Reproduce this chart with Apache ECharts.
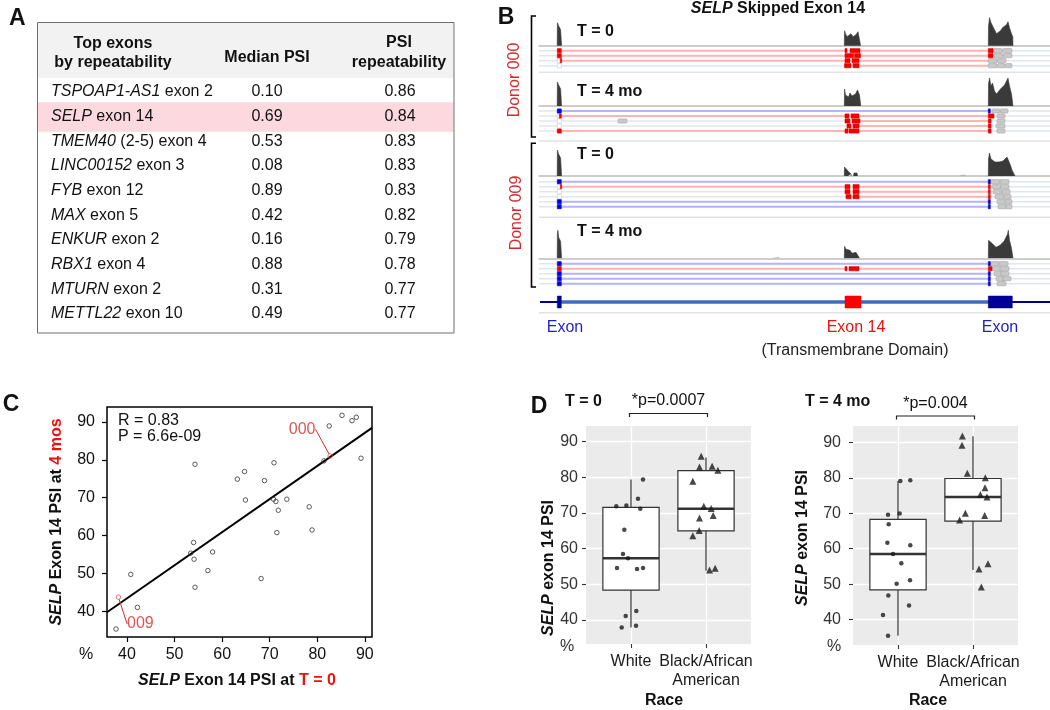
<!DOCTYPE html>
<html>
<head>
<meta charset="utf-8">
<title>SELP exon 14</title>
<script src="https://cdn.jsdelivr.net/npm/echarts@6.0.0/dist/echarts.min.js"></script>
<style>
html,body{margin:0;padding:0;background:#ffffff;}
#chart{width:1050px;height:710px;}
</style>
</head>
<body>
<div id="chart"></div>
<script>
// ================= Panel A : table =================
const tableGenes = ['TSPOAP1-AS1','SELP','TMEM40','LINC00152','FYB','MAX','ENKUR','RBX1','MTURN','METTL22'];
const tableExonText = [' exon 2',' exon 14',' (2-5) exon 4',' exon 3',' exon 12',' exon 5',' exon 2',' exon 4',' exon 2',' exon 10'];
const tableMedianPSI = ['0.10','0.69','0.53','0.08','0.89','0.42','0.16','0.88','0.31','0.49'];
const tableRepeatability = ['0.86','0.84','0.83','0.83','0.83','0.82','0.79','0.78','0.77','0.77'];
const tableHighlightGene = 'SELP';

// ================= Panel B : genome tracks =================
const trackSpan = 511;
const geneExons = [[18.3,22.3],[306,322],[449.3,473.3]];
const geneExonKind = ['flank','skipped','flank'];
const sampleLabels = ['T = 0','T = 4 mo','T = 0','T = 4 mo'];
const donorLabels = ['Donor 000','Donor 009'];
const exonLabels = ['Exon','Exon 14','Exon'];

const cov000T0 = [
  [[18.2,0],[18.4,23],[18.9,25],[19.6,20],[20.6,18],[21.6,16],[22.4,15],[22.6,0]],
  [[305.3,0],[305.5,15],[306.5,12],[308,9],[310,10],[312,12],[314,9],[315.5,8],[317,11],[319,14],[321,13],[321.6,0]],
  [[449.3,0],[449.5,19],[450.5,28],[452,23],[453.5,21],[455.5,16],[457.5,12],[459.5,12],[461.5,15],[463.5,18],[465.5,19],[467.5,21],[469,24],[470.5,18],[472.5,12],[473.8,9],[474,0]]
];
const cov000T4 = [
  [[18.2,0],[18.4,24],[18.9,26],[19.6,21],[20.6,19],[21.6,17],[22.4,15],[22.6,0]],
  [[305.3,0],[305.5,17],[306.5,11],[308,12],[309.5,9],[311,13],[313,10],[314.5,8],[316.5,12],[318.5,16],[320.5,11],[321.6,9],[321.8,0]],
  [[449.3,0],[449.5,22],[450.5,28],[452,20],[453.5,23],[455.5,15],[457.5,12],[459.5,14],[461.5,17],[463.5,19],[465.5,21],[467.5,23],[469,28],[470.5,20],[472.5,12],[474,0]]
];
const cov009T0 = [
  [[18.2,0],[18.4,26],[18.9,28],[19.6,22],[20.6,20],[21.6,18],[22.4,16],[22.6,0]],
  [[305.3,0],[305.5,9],[307,7],[309,5],[310.5,4],[312,2],[312.3,0]],
  [[314.5,0],[315,3],[316.5,5],[318,3],[318.5,0]],
  [[449.3,0],[449.5,17],[450.5,23],[452,17],[454,15],[456,14],[458,12],[460,14],[462,13],[464,15],[466,16],[468,19],[469.5,18],[471,12],[473,6],[476,0]]
];
const cov009T4 = [
  [[18.2,0],[18.4,25],[18.9,28],[19.6,21],[20.6,19],[21.6,17],[22.4,15],[22.6,0]],
  [[305.3,0],[305.5,12],[307,9],[309,7],[311,8],[313,5],[315,4],[317,6],[319,4],[320.5,0]],
  [[449.3,0],[449.5,18],[451,16],[453,15],[455,13],[457,11],[459,10],[461,13],[463,15],[465,17],[467,21],[468.5,24],[469.3,28],[470.5,18],[472.5,10],[474,0]]
];
const covStray = [[], [], [[421,0],[421.2,1.2],[426,1.2],[426.2,0]], [[234,0],[234.2,1],[240,1],[240.2,0]]];

// reads: R red block, B blue block, G gray block, W empty block, r inclusion junction, b skipping junction
const reads000T0 = [
  [['R',18.3,22.3],['r',22.3,306],['R',306,308],['R',311,321],['r',321,449.3],['R',449.3,454],['G',454.5,463],['G',463.5,473]],
  [['R',18.3,22.3],['r',22.3,306],['R',306,314.5],['R',315.5,321.5],['r',321.5,449.3],['R',449.3,454],['G',455,464],['G',464.5,473]],
  [['W',18.3,22.3],['R',21.3,22.3],['r',22.3,306],['R',306,311],['R',313,320],['r',320,449.3],['G',449.3,458],['G',458.5,467]],
  [['W',18.3,22.3],['R',305.5,312],['R',314,320],['r',320,449.3],['G',449.3,458],['G',458.5,466],['G',466.5,473]]
];
const reads000T4 = [
  [['B',18.3,22.3],['b',22.3,449.3],['B',449.3,451.3],['G',453,461],['G',461.5,469]],
  [['W',18.3,22.3],['R',20.3,22.3],['r',22.3,306],['R',306,310],['R',312,320],['r',320,449.3],['R',449.3,455],['G',458,466]],
  [['W',18.3,22.3],['G',79,88],['R',306,311],['R',313,321],['r',321,449.3],['R',449.3,452],['G',458,466]],
  [['W',18.3,22.3],['R',308,312],['R',314,320],['r',320,449.3],['R',449.3,452],['G',457,466]],
  [['R',18.3,22.3],['r',22.3,306],['R',306,309],['R',310,320],['r',320,449.3],['R',449.3,452],['G',458,466]]
];
const reads009T0 = [
  [['B',18.3,22.3],['b',22.3,449.3],['B',449.3,451.3],['G',451.5,461],['G',461,470]],
  [['W',18.3,22.3],['R',21.3,22.3],['r',22.3,306],['R',306,311],['R',314,320],['r',320,449.3],['R',449.3,451.3],['G',453,462],['G',461.5,470]],
  [['W',18.3,22.3],['R',306,311],['R',314,320],['r',320,449.3],['R',449.3,451.3],['G',454,463],['G',463,471]],
  [['W',18.3,22.3],['R',307,312],['R',314,320],['r',320,449.3],['R',449.3,451.3],['G',456,465],['G',465,472]],
  [['B',18.3,22.3],['b',22.3,449.3],['B',449.3,451.3],['G',458,467],['G',466,473]],
  [['B',18.3,22.3],['b',22.3,449.3],['B',449.3,451.3],['G',459,467],['G',467,473]]
];
const reads009T4 = [
  [['B',18.3,22.3],['b',22.3,449.3],['B',449.3,451.3],['G',451.5,460],['G',460,469]],
  [['R',18.3,22.3],['r',22.3,306],['R',306,308],['R',310,320],['r',320,449.3],['R',449.3,453],['G',453,462],['G',461,470]],
  [['B',18.3,22.3],['b',22.3,449.3],['B',449.3,451.3],['G',455,464],['G',462,470]],
  [['B',18.3,22.3],['b',22.3,449.3],['B',449.3,451.3],['G',457,466],['G',464,472]],
  [['B',18.3,22.3],['b',22.3,449.3],['B',449.3,451.3],['G',458,467]]
];

// ================= Panel C : scatter =================
const psiT0 = [37.7,40.8,42.2,54.0,53.4,54.1,54.3,54.3,58.0,57.0,63.2,64.7,64.9,68.9,68.2,70.9,70.8,71.3,71.5,71.8,73.6,78.3,78.9,81.4,82.5,85.2,87.3,88.2,89.2];
const psiT4 = [35.4,49.8,41.1,58.2,55.4,53.8,46.4,78.8,55.7,50.8,74.9,76.9,69.4,74.5,48.7,79.2,69.6,69.0,60.8,66.7,69.6,67.6,61.5,79.7,88.9,91.7,90.3,91.2,80.4];
const donorIds = ['000','009'];
const donorT0 = [82.7,38.2];
const donorT4 = [81.0,43.8];
const fitIntercept = 8.6;
const fitSlope = 0.872;
const statR = '0.83';
const statP = '6.6e-09';
const scatterTicks = [40,50,60,70,80,90];

// ================= Panel D : box plots =================
const raceLabels = ['White','Black/African\nAmerican'];
const boxTicks = [40,50,60,70,80,90];
const d0WhitePSI = [79.4,74.0,71.9,72.1,71.2,65.3,58.5,57.3,54.6,54.3,54.6,42.5,41.1,37.9,38.4];
const d0WhiteJit = [0.16,0.093,-0.196,-0.062,0.124,-0.089,-0.107,-0.04,-0.187,0.08,0.16,0.071,-0.071,-0.124,0.067];
const d0BlackPSI = [85.9,82.9,83.1,82.0,78.9,71.9,71.3,68.6,69.3,65.1,63.6,54.0,54.5];
const d0BlackJit = [-0.064,-0.087,0.082,0.158,-0.176,-0.029,0.069,-0.087,0.096,-0.091,-0.176,0.047,0.122];
const d4WhitePSI = [79.1,79.3,69.6,69.9,66.9,61.7,61.0,58.5,55.9,50.1,51.1,46.8,44.0,41.3,35.5];
const d4WhiteJit = [0.031,0.164,-0.133,0.022,-0.124,-0.142,0.164,-0.067,0.044,-0.018,0.16,-0.129,0.147,-0.2,-0.133];
const d4BlackPSI = [91.8,89.2,81.3,80.0,77.2,75.3,74.6,70.0,69.4,68.1,55.8,54.3,49.2];
const d4BlackJit = [-0.142,-0.147,-0.076,0.164,0.16,0.098,0.187,-0.102,0.156,-0.178,0.2,0.08,0.111];
// [lower whisker, Q1, median, Q3, upper whisker]
const d0WhiteBox = [37.9,48.4,57.3,71.6,79.4];
const d0BlackBox = [53.8,65.0,71.2,81.9,85.6];
const d4WhiteBox = [35.5,48.4,58.5,68.3,79.1];
const d4BlackBox = [54.0,67.8,74.6,79.8,91.7];
const pValueT0 = '*p=0.0007';
const pValueT4 = '*p=0.004';

// ================= build =================
const FONT = "'Liberation Sans', Arial, Helvetica, sans-serif";
const chart = echarts.init(document.getElementById('chart'), null, {renderer: 'canvas', width: 1050, height: 710});

const grids = [];
const xAxes = [];
const yAxes = [];
const series = [];

function gridOpt(o) { return Object.assign({outerBoundsMode: 'none', containLabel: false}, o); }

// ---- Panel C ----
grids.push(gridOpt({left: 107, top: 407, width: 265, height: 230, show: true, borderColor: '#000', borderWidth: 1.5, backgroundColor: 'transparent'}));
xAxes.push({type: 'value', gridIndex: 0, min: 35.8, max: 91.5,
  axisLine: {show: false},
  axisTick: {show: true, length: 5, customValues: scatterTicks, lineStyle: {color: '#000', width: 1.2}},
  axisLabel: {customValues: scatterTicks, fontSize: 16, color: '#111', margin: 10, fontFamily: FONT},
  splitLine: {show: false}});
yAxes.push({type: 'value', gridIndex: 0, min: 33.3, max: 93.9,
  axisLine: {show: false},
  axisTick: {show: true, length: 5, customValues: scatterTicks, lineStyle: {color: '#000', width: 1.2}},
  axisLabel: {customValues: scatterTicks, fontSize: 16, color: '#111', margin: 12, fontFamily: FONT},
  splitLine: {show: false}});

// ---- Panel D ----
function dAxes(gi, ymin, ymax, labelMargin) {
  xAxes.push({type: 'value', gridIndex: gi, min: 0.4, max: 2.6,
    axisLine: {show: false},
    axisTick: {show: true, length: 4, customValues: [1, 2], lineStyle: {color: '#333', width: 1.1}},
    axisLabel: {customValues: [1, 2], formatter: v => raceLabels[Math.round(v) - 1], fontSize: 16, color: '#1a1a1a', margin: 8, lineHeight: 19, fontFamily: FONT},
    splitLine: {show: true, lineStyle: {color: '#ffffff', width: 1.3}}});
  yAxes.push({type: 'value', gridIndex: gi, min: ymin, max: ymax,
    axisLine: {show: false},
    axisTick: {show: true, length: 4, customValues: boxTicks, lineStyle: {color: '#333', width: 1.1}},
    axisLabel: {customValues: boxTicks, fontSize: 16, color: '#333', margin: labelMargin, fontFamily: FONT},
    splitLine: {show: true, lineStyle: {color: '#ffffff', width: 1.3}}});
}
grids.push(gridOpt({left: 586, top: 426, width: 165, height: 218, show: true, backgroundColor: '#ebebeb', borderWidth: 0}));
dAxes(1, 33.27, 94.4, 8);
grids.push(gridOpt({left: 853, top: 426, width: 165, height: 219, show: true, backgroundColor: '#ebebeb', borderWidth: 0}));
dAxes(2, 32.87, 94.59, 12);

// ---- Panel B ----
const covBaseline = [45.7, 106, 176, 258.3];
const readFirstRow = [50.7, 111, 181.7, 263.7];
const covSets = [cov000T0, cov000T4, cov009T0, cov009T4];
const readSets = [reads000T0, reads000T4, reads009T0, reads009T4];
for (let s = 0; s < 4; s++) {
  grids.push(gridOpt({left: 539, width: 511, top: covBaseline[s] - 30, height: 30}));
  xAxes.push({type: 'value', gridIndex: 3 + s, min: 0, max: trackSpan, show: true,
    axisLine: {show: true, onZero: false, lineStyle: {color: '#bdbdbd', width: 1.5}},
    axisTick: {show: false}, axisLabel: {show: false}, splitLine: {show: false}});
  yAxes.push({type: 'value', gridIndex: 3 + s, min: 0, max: 30, show: false, splitLine: {show: false}});
}
for (let s = 0; s < 4; s++) {
  const n = readSets[s].length;
  grids.push(gridOpt({left: 539, width: 511, top: readFirstRow[s] - 2.5, height: n * 5}));
  xAxes.push({type: 'value', gridIndex: 7 + s, min: 0, max: trackSpan, show: false, splitLine: {show: false}});
  yAxes.push({type: 'value', gridIndex: 7 + s, min: 0.5, max: n + 0.5, inverse: true, show: false, splitLine: {show: false}});
}
grids.push(gridOpt({left: 539, width: 511, top: 296, height: 12}));
xAxes.push({type: 'value', gridIndex: 11, min: 0, max: trackSpan, show: false, splitLine: {show: false}});
yAxes.push({type: 'value', gridIndex: 11, min: -1, max: 1, show: false, splitLine: {show: false}});

// coverage series
for (let s = 0; s < 4; s++) {
  covSets[s].forEach(peak => {
    series.push({type: 'line', xAxisIndex: 3 + s, yAxisIndex: 3 + s, data: peak, symbol: 'none', silent: true,
      lineStyle: {color: '#3a3a3a', width: 0.6}, areaStyle: {color: '#3a3a3a', opacity: 1}, animation: false, z: 3});
  });
  if (covStray[s].length) {
    series.push({type: 'line', xAxisIndex: 3 + s, yAxisIndex: 3 + s, data: covStray[s], symbol: 'none', silent: true,
      lineStyle: {color: '#9a9a9a', width: 0.6}, areaStyle: {color: '#9a9a9a', opacity: 1}, animation: false, z: 3});
  }
}

// reads series
const kindIndex = {bg: 0, r: 1, b: 2, W: 3, G: 4, R: 5, B: 6};
const kindFill = {3: '#ffffff', 4: '#c9c9c9', 5: '#f20000', 6: '#0000ee'};
const kindStroke = {3: '#c8c8c8', 4: '#a5a5a5', 5: '#e00000', 6: '#0000c8'};
const lineColor = {0: '#dfe7ee', 1: '#ffb4b4', 2: '#b4b4ff'};
function renderRead(params, api) {
  const row = api.value(0), s = api.value(1), e = api.value(2), k = api.value(3);
  const a = api.coord([s, row]);
  const b = api.coord([e, row]);
  const y = a[1];
  if (k <= 2) {
    return {type: 'line', shape: {x1: a[0], y1: y, x2: b[0], y2: y}, style: {stroke: lineColor[k], lineWidth: k === 0 ? 1.6 : 2}};
  }
  return {type: 'rect', shape: {x: a[0], y: y - 2.1, width: Math.max(1.4, b[0] - a[0]), height: 4.2, r: k === 4 ? 1 : 0},
    style: {fill: kindFill[k], stroke: kindStroke[k], lineWidth: 0.6}};
}
for (let s = 0; s < 4; s++) {
  const data = [];
  readSets[s].forEach((row, i) => {
    data.push([i + 1, 0, trackSpan, 0]);
    row.forEach(it => data.push([i + 1, it[1], it[2], kindIndex[it[0]]]));
  });
  data.sort((p, q) => p[3] - q[3]);
  series.push({type: 'custom', xAxisIndex: 7 + s, yAxisIndex: 7 + s, data: data, renderItem: renderRead, silent: true, animation: false, clip: false});
}

// gene model
series.push({type: 'line', xAxisIndex: 11, yAxisIndex: 11, data: [[1, 0], [trackSpan, 0]], symbol: 'none', silent: true,
  lineStyle: {color: '#000099', width: 2}, animation: false, z: 2});
series.push({type: 'line', xAxisIndex: 11, yAxisIndex: 11, data: [[geneExons[0][1], 0], [geneExons[2][0], 0]], symbol: 'none', silent: true,
  lineStyle: {color: '#3f6cc0', width: 3.6}, animation: false, z: 3});
series.push({type: 'custom', xAxisIndex: 11, yAxisIndex: 11, silent: true, animation: false, z: 4,
  data: geneExons.map((e, i) => [e[0], e[1], geneExonKind[i] === 'skipped' ? 1 : 0]),
  renderItem: function (params, api) {
    const a = api.coord([api.value(0), 1]);
    const b = api.coord([api.value(1), -1]);
    const red = api.value(2) === 1;
    return {type: 'rect', shape: {x: a[0], y: a[1], width: Math.max(3.5, b[0] - a[0]), height: b[1] - a[1]},
      style: {fill: red ? '#ff0000' : '#000099', stroke: red ? '#e00000' : '#000088', lineWidth: 0.5}};
  }});

// ---- Panel C series ----
series.push({type: 'scatter', xAxisIndex: 0, yAxisIndex: 0, data: psiT0.map((v, i) => [v, psiT4[i]]), symbol: 'circle', symbolSize: 4.5,
  itemStyle: {color: 'rgba(0,0,0,0)', borderColor: '#333', borderWidth: 1}, silent: true, animation: false, z: 4});
const fitX = [35.8, 91.5];
series.push({type: 'line', xAxisIndex: 0, yAxisIndex: 0, data: fitX.map(x => [x, fitIntercept + fitSlope * x]), symbol: 'none', silent: true,
  lineStyle: {color: '#000', width: 2}, animation: false, z: 3});
const donorLabelShift = [[-28, -11], [22, 11]];
donorIds.forEach((id, i) => {
  series.push({type: 'scatter', xAxisIndex: 0, yAxisIndex: 0, data: [{value: [donorT0[i], donorT4[i]], name: id}], symbol: 'circle', symbolSize: 4.5,
    itemStyle: {color: 'rgba(0,0,0,0)', borderColor: '#e0505a', borderWidth: 1}, silent: true, animation: false, z: 5,
    label: {show: true, formatter: id, position: i === 0 ? 'top' : 'bottom', color: '#d42a2a', fontSize: 16, fontFamily: FONT},
    labelLayout: {dx: donorLabelShift[i][0], dy: donorLabelShift[i][1]},
    labelLine: {show: true, lineStyle: {color: '#d42a2a', width: 1}}});
});

// ---- Panel D series ----
function renderBox(params, api) {
  const x = api.value(0);
  const lo = api.coord([x, api.value(1)]), q1 = api.coord([x, api.value(2)]), md = api.coord([x, api.value(3)]),
        q3 = api.coord([x, api.value(4)]), hi = api.coord([x, api.value(5)]);
  const w = api.size([0.75, 0])[0];
  const cx = lo[0];
  const st = {stroke: '#333', lineWidth: 1.2};
  return {type: 'group', children: [
    {type: 'line', shape: {x1: cx, y1: hi[1], x2: cx, y2: q3[1]}, style: st},
    {type: 'line', shape: {x1: cx, y1: q1[1], x2: cx, y2: lo[1]}, style: st},
    {type: 'rect', shape: {x: cx - w / 2, y: q3[1], width: w, height: q1[1] - q3[1]}, style: {fill: '#fff', stroke: '#333', lineWidth: 1.2}},
    {type: 'line', shape: {x1: cx - w / 2, y1: md[1], x2: cx + w / 2, y2: md[1]}, style: {stroke: '#333', lineWidth: 2.4}}
  ]};
}
[[1, d0WhiteBox, d0BlackBox, d0WhitePSI, d0WhiteJit, d0BlackPSI, d0BlackJit],
 [2, d4WhiteBox, d4BlackBox, d4WhitePSI, d4WhiteJit, d4BlackPSI, d4BlackJit]].forEach(p => {
  const ax = p[0];
  series.push({type: 'custom', xAxisIndex: ax, yAxisIndex: ax, renderItem: renderBox, silent: true, animation: false, z: 3,
    data: [[1].concat(p[1]), [2].concat(p[2])]});
  series.push({type: 'scatter', xAxisIndex: ax, yAxisIndex: ax, data: p[3].map((v, i) => [1 + p[4][i], v]), symbol: 'circle', symbolSize: 4.5,
    itemStyle: {color: '#1a1a1a'}, silent: true, animation: false, z: 5});
  series.push({type: 'scatter', xAxisIndex: ax, yAxisIndex: ax, data: p[5].map((v, i) => [2 + p[6][i], v]), symbol: 'triangle', symbolSize: 7,
    itemStyle: {color: '#1a1a1a'}, silent: true, animation: false, z: 5});
});

chart.setOption({
  animation: false,
  textStyle: {fontFamily: FONT},
  grid: grids, xAxis: xAxes, yAxis: yAxes, series: series
});

// ================= annotations (graphic) =================
const G = [];
function T(x, y, text, o) {
  o = o || {};
  const st = {text: text, fill: o.fill || '#111', fontSize: o.size || 16, fontWeight: o.weight || 'normal',
    fontStyle: o.italic ? 'italic' : 'normal', fontFamily: FONT, align: o.align || 'left', verticalAlign: 'middle'};
  if (o.rich) st.rich = o.rich;
  G.push({type: 'text', x: x, y: y, rotation: o.rotation || 0, silent: true, z: 20, style: st});
}
function L(points, o) {
  o = o || {};
  G.push({type: 'polyline', silent: true, z: 15, shape: {points: points}, style: {stroke: o.stroke || '#000', lineWidth: o.width || 1, fill: null}});
}
function R(x, y, w, h, o) {
  G.push({type: 'rect', silent: true, z: o.z || 1, shape: {x: x, y: y, width: w, height: h}, style: {fill: o.fill || null, stroke: o.stroke || null, lineWidth: o.width || 1}});
}
function rs(weight, italic, fill) {
  return {fontSize: 16, fontFamily: FONT, fontWeight: weight, fontStyle: italic ? 'italic' : 'normal', fill: fill || '#111'};
}

// panel letters
T(9, 19, 'A', {size: 23, weight: 'bold'});
T(506, 18, 'B', {size: 23, weight: 'bold', align: 'center'});
T(11, 405, 'C', {size: 23, weight: 'bold', align: 'center'});
T(539, 407, 'D', {size: 23, weight: 'bold', align: 'center'});

// ---- table ----
R(37.5, 22.5, 416.5, 310.5, {stroke: '#6e6e6e', width: 1, z: 2});
R(38, 23, 415.5, 55, {fill: '#f2f2f2', z: 1});
const rowY0 = 92, rowH = 24.65;
tableGenes.forEach((g, i) => {
  const y = rowY0 + i * rowH;
  if (g === tableHighlightGene) R(38, y - 14.5, 415.5, 29.5, {fill: '#fbd9df', z: 1});
  T(51, y, '{i|' + g + '}{n|' + tableExonText[i] + '}', {rich: {i: rs('normal', true), n: rs('normal', false)}});
  T(267, y, tableMedianPSI[i], {align: 'center'});
  T(400, y, tableRepeatability[i], {align: 'center'});
});
T(113, 44, 'Top exons', {weight: 'bold', align: 'center'});
T(113, 63, 'by repeatability', {weight: 'bold', align: 'center'});
T(267, 58, 'Median PSI', {weight: 'bold', align: 'center'});
T(399, 43, 'PSI', {weight: 'bold', align: 'center'});
T(399, 63, 'repeatability', {weight: 'bold', align: 'center'});

// ---- panel B annotations ----
T(778, 9, '{bi|SELP}{b| Skipped Exon 14}', {align: 'center', rich: {bi: rs('bold', true), b: rs('bold', false)}});
const sampleLabelY = [32, 92, 155, 232];
sampleLabels.forEach((s, i) => T(577, sampleLabelY[i], s, {weight: 'bold'}));
L([[536, 16], [531.5, 16], [531.5, 137], [536, 137]], {width: 1.6});
L([[536, 143.3], [531.5, 143.3], [531.5, 287], [536, 287]], {width: 1.6});
T(515, 80, donorLabels[0], {rotation: Math.PI / 2, align: 'center', fill: '#d42a2a'});
T(517, 213, donorLabels[1], {rotation: Math.PI / 2, align: 'center', fill: '#d42a2a'});
[72.3, 141, 217.3, 312.7].forEach(y => L([[539, y], [1050, y]], {stroke: '#e3e3e3', width: 1.5}));
const exonLabelX = [565, 856, 1000];
const exonLabelColor = ['#1f1fc8', '#ee1111', '#1f1fc8'];
exonLabels.forEach((s, i) => T(exonLabelX[i], 328, s, {align: 'center', fill: exonLabelColor[i]}));
T(855, 351, '(Transmembrane Domain)', {align: 'center', fill: '#222'});

// ---- panel C annotations ----
T(118, 421, 'R = ' + statR);
T(118, 437, 'P = ' + statP);
T(86, 655, '%', {align: 'center'});
T(237, 681, '{bi|SELP}{b| Exon 14 PSI at }{r|T = 0}', {align: 'center', rich: {bi: rs('bold', true), b: rs('bold', false), r: rs('bold', false, '#ee1111')}});
T(57, 522, '{bi|SELP}{b| Exon 14 PSI at }{r|4 mos}', {align: 'center', rotation: Math.PI / 2, rich: {bi: rs('bold', true), b: rs('bold', false), r: rs('bold', false, '#ee1111')}});

// ---- panel D annotations ----
T(565, 402, 'T = 0', {weight: 'bold'});
T(805, 402, 'T = 4 mo', {weight: 'bold'});
[[1, pValueT0, 413.5, 401], [2, pValueT4, 416, 404]].forEach(p => {
  const xa = chart.convertToPixel({xAxisIndex: p[0]}, 1);
  const xb = chart.convertToPixel({xAxisIndex: p[0]}, 2);
  L([[xa - 1.5, p[2] + 3.5], [xa - 1.5, p[2]], [xb + 1.5, p[2]], [xb + 1.5, p[2] + 3.5]], {width: 1.2, stroke: '#222'});
  T((xa + xb) / 2, p[3], p[1], {align: 'center'});
});
T(549, 568, '{bi|SELP}{b| exon 14 PSI}', {align: 'center', rotation: Math.PI / 2, rich: {bi: rs('bold', true), b: rs('bold', false)}});
T(803, 538, '{bi|SELP}{b| exon 14 PSI}', {align: 'center', rotation: Math.PI / 2, rich: {bi: rs('bold', true), b: rs('bold', false)}});
T(567, 647, '%', {align: 'center', fill: '#333'});
T(834, 647, '%', {align: 'center', fill: '#333'});
T(664, 701, 'Race', {align: 'center', weight: 'bold'});
T(928, 701, 'Race', {align: 'center', weight: 'bold'});

chart.setOption({graphic: {elements: G}});
</script>
</body>
</html>
